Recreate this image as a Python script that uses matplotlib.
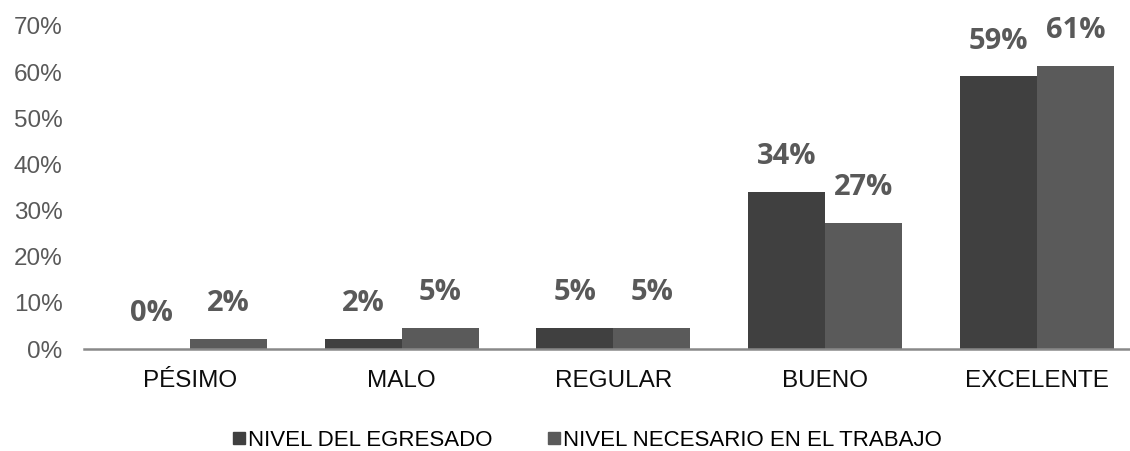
import matplotlib.pyplot as plt
from matplotlib.lines import Line2D
import numpy as np

plt.rcParams['font.family'] = ['Liberation Sans', 'DejaVu Sans']

# data (percent of respondents)
categorias = ['PÉSIMO', 'MALO', 'REGULAR', 'BUENO', 'EXCELENTE']
nivel_egresado = [0.0, 2.27, 4.55, 34.09, 59.09]
nivel_necesario = [2.27, 4.55, 4.55, 27.27, 61.36]
series_names = ['NIVEL DEL EGRESADO', 'NIVEL NECESARIO EN EL TRABAJO']

c_dark = '#404040'
c_light = '#5a5a5a'

fig = plt.figure(figsize=(11.3, 4.51), dpi=100)
ax = fig.add_axes([84 / 1130, (451 - 349) / 451, 1 - 84 / 1130, (349 - 26) / 451])

x = np.arange(len(categorias))
w = 0.3636
b1 = ax.bar(x - w / 2, nivel_egresado, w, color=c_dark)
b2 = ax.bar(x + w / 2, nivel_necesario, w, color=c_light)

for bars in (b1, b2):
    for r in bars:
        h = r.get_height()
        ax.annotate('%d%%' % round(h), (r.get_x() + r.get_width() / 2, h),
                    xytext=(0, 15), textcoords='offset points', ha='center', va='bottom',
                    fontsize=21, fontweight='bold', color='#595959', family=['Open Sans', 'DejaVu Sans'])

ax.set_xlim(-0.5, 4.44)
ax.set_ylim(0, 70)
ax.set_yticks(range(0, 71, 10))
ax.set_yticklabels(['%d%%' % v for v in range(0, 71, 10)], fontsize=17.5, color='#595959')
ax.set_xticks(x)
ax.set_xticklabels(categorias, fontsize=17.5, color='#0d0d0d')
ax.tick_params(axis='y', length=0, pad=15.5)
ax.tick_params(axis='x', length=0, pad=15)

for s in ['top', 'right', 'left']:
    ax.spines[s].set_visible(False)
ax.spines['bottom'].set_color('#898989')
ax.spines['bottom'].set_linewidth(1.8)

handles = [Line2D([], [], marker='s', linestyle='none', markersize=9, color=c_dark),
           Line2D([], [], marker='s', linestyle='none', markersize=9, color=c_light)]
fig.legend(handles, series_names, loc='center', bbox_to_anchor=(587 / 1130, (451 - 440) / 451),
           ncol=2, frameon=False, fontsize=16, handlelength=0.6, handletextpad=0.1,
           columnspacing=2.5, borderpad=0)

fig.savefig('out.png', dpi=100)
